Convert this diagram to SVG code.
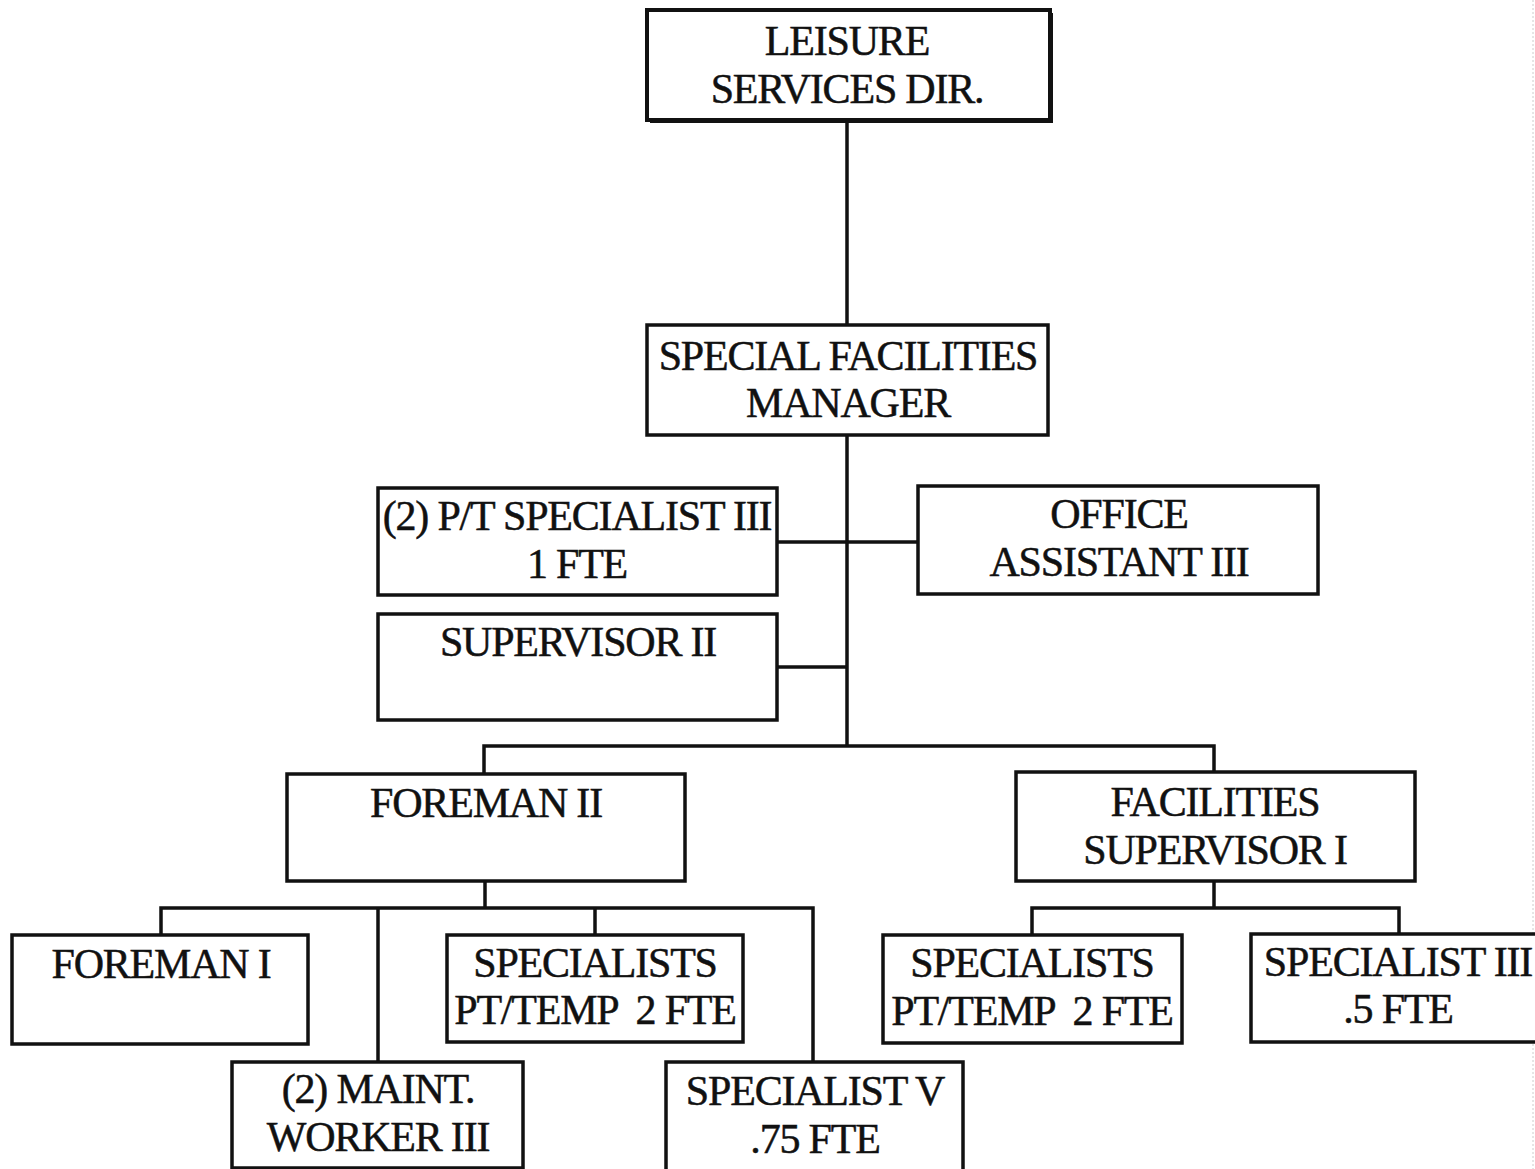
<svg xmlns="http://www.w3.org/2000/svg" width="1535" height="1169" viewBox="0 0 1535 1169">
  <style>
    .box { fill: #fff; stroke: #111; stroke-width: 3.5; }
    .top { fill: #fff; stroke: #111; stroke-width: 4; }
    .line { fill: none; stroke: #111; stroke-width: 3.5; }
    text { font-family: "Liberation Serif", "Times New Roman", serif; font-size: 42px; fill: #111; stroke: #111; stroke-width: 0.5; text-anchor: middle; letter-spacing: -1.2px; }
  </style>
  <rect width="1535" height="1169" fill="#fff"/>
  <line x1="1533" y1="0" x2="1533" y2="1169" stroke="#ccc" stroke-width="1" stroke-dasharray="2 2"/>

  <g id="connectors">
    <path class="line" d="M847,122 V325"/>
    <path class="line" d="M847,435 V746"/>
    <path class="line" d="M777,542 H918"/>
    <path class="line" d="M777,667 H847"/>
    <path class="line" d="M484,774 V746 H1214 V772"/>
    <path class="line" d="M485,881 V908"/>
    <path class="line" d="M161,935 V908 H813 V1062"/>
    <path class="line" d="M378,908 V1062"/>
    <path class="line" d="M595,908 V935"/>
    <path class="line" d="M1214,881 V908"/>
    <path class="line" d="M1032,935 V908 H1399 V935"/>
  </g>

  <g id="leisure-services-dir">
    <rect x="650" y="13" width="403" height="110" fill="#111"/>
    <rect class="top" x="647" y="10" width="403" height="110"/>
    <text x="847" y="55">LEISURE</text>
    <text x="847" y="103">SERVICES DIR.</text>
  </g>

  <g id="special-facilities-manager">
    <rect class="box" x="647" y="325" width="401" height="110"/>
    <text x="848" y="370">SPECIAL FACILITIES</text>
    <text x="848" y="417">MANAGER</text>
  </g>

  <g id="pt-specialist-iii">
    <rect class="box" x="378" y="488" width="399" height="107"/>
    <text x="577" y="530">(2) P/T SPECIALIST III</text>
    <text x="577" y="578">1 FTE</text>
  </g>

  <g id="office-assistant-iii">
    <rect class="box" x="918" y="486" width="400" height="108"/>
    <text x="1119" y="528">OFFICE</text>
    <text x="1119" y="576">ASSISTANT III</text>
  </g>

  <g id="supervisor-ii">
    <rect class="box" x="378" y="614" width="399" height="106"/>
    <text x="578" y="656">SUPERVISOR II</text>
  </g>

  <g id="foreman-ii">
    <rect class="box" x="287" y="774" width="398" height="107"/>
    <text x="486" y="817">FOREMAN II</text>
  </g>

  <g id="facilities-supervisor-i">
    <rect class="box" x="1016" y="772" width="399" height="109"/>
    <text x="1215" y="816">FACILITIES</text>
    <text x="1215" y="864">SUPERVISOR I</text>
  </g>

  <g id="foreman-i">
    <rect class="box" x="12" y="935" width="296" height="109"/>
    <text x="161" y="978">FOREMAN I</text>
  </g>

  <g id="maint-worker-iii">
    <rect class="box" x="232" y="1062" width="291" height="106"/>
    <text x="378" y="1103">(2) MAINT.</text>
    <text x="378" y="1151">WORKER III</text>
  </g>

  <g id="specialists-pt-temp-foreman">
    <rect class="box" x="447" y="935" width="296" height="107"/>
    <text x="595" y="977">SPECIALISTS</text>
    <text x="595" y="1024" xml:space="preserve">PT/TEMP  2 FTE</text>
  </g>

  <g id="specialist-v">
    <rect class="box" x="666" y="1062" width="297" height="109"/>
    <text x="815" y="1105">SPECIALIST V</text>
    <text x="815" y="1153">.75 FTE</text>
  </g>

  <g id="specialists-pt-temp-facilities">
    <rect class="box" x="883" y="935" width="299" height="108"/>
    <text x="1032" y="977">SPECIALISTS</text>
    <text x="1032" y="1025" xml:space="preserve">PT/TEMP  2 FTE</text>
  </g>

  <g id="specialist-iii">
    <rect class="box" x="1251" y="934" width="300" height="108"/>
    <text x="1398" y="976">SPECIALIST III</text>
    <text x="1398" y="1023">.5 FTE</text>
  </g>
</svg>
